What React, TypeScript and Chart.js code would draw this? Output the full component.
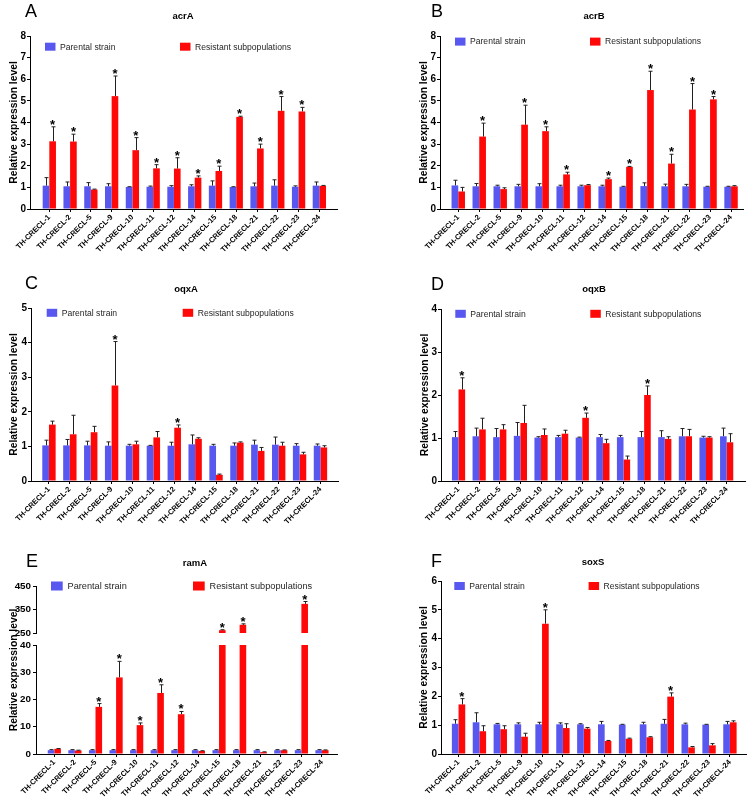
import React, { useEffect, useRef } from 'react';
import { Chart, registerables } from 'chart.js';

Chart.register(...registerables);

const FONT = '"Liberation Sans", Arial, Helvetica, sans-serif';
Chart.defaults.font.family = FONT;

// ---------- data ----------
const categories = [
  'TH-CRECL-1', 'TH-CRECL-2', 'TH-CRECL-5', 'TH-CRECL-9', 'TH-CRECL-10', 'TH-CRECL-11', 'TH-CRECL-12',
  'TH-CRECL-14', 'TH-CRECL-15', 'TH-CRECL-18', 'TH-CRECL-21', 'TH-CRECL-22', 'TH-CRECL-23', 'TH-CRECL-24',
];
const seriesLabels = ['Parental strain', 'Resistant subpopulations'];
const yAxisTitle = 'Relative expression level';

// acrA
const acrAParental = [1.08, 1.05, 1.05, 1.05, 1.02, 1.03, 1.03, 1.05, 1.08, 1.02, 1.05, 1.08, 1.03, 1.08];
const acrAParentalSD = [0.37, 0.2, 0.17, 0.12, 0.01, 0.03, 0.05, 0.07, 0.22, 0.01, 0.15, 0.27, 0.04, 0.17];
const acrAResistant = [3.13, 3.12, 0.9, 5.22, 2.72, 1.88, 1.87, 1.45, 1.76, 4.26, 2.8, 4.54, 4.51, 1.07];
const acrAResistantSD = [0.67, 0.34, 0.02, 0.93, 0.58, 0.17, 0.5, 0.08, 0.22, 0.03, 0.2, 0.66, 0.19, 0.02];
const acrASignificant = [1, 1, 0, 1, 1, 1, 1, 1, 1, 1, 1, 1, 1, 0];

// acrB
const acrBParental = [1.09, 1.05, 1.05, 1.05, 1.05, 1.05, 1.05, 1.05, 1.03, 1.06, 1.05, 1.05, 1.03, 1.03];
const acrBParentalSD = [0.24, 0.13, 0.05, 0.09, 0.12, 0.05, 0.05, 0.05, 0.02, 0.15, 0.1, 0.09, 0.02, 0.02];
const acrBResistant = [0.81, 3.35, 0.92, 3.9, 3.6, 1.6, 1.1, 1.38, 1.95, 5.5, 2.1, 4.6, 5.07, 1.05];
const acrBResistantSD = [0.19, 0.62, 0.06, 0.9, 0.2, 0.1, 0.03, 0.05, 0.02, 0.87, 0.43, 1.2, 0.13, 0.03];
const acrBSignificant = [0, 1, 0, 1, 1, 1, 0, 1, 1, 1, 1, 1, 1, 0];

// oqxA
const oqxAParental = [1.03, 1.03, 1.03, 1.02, 1.02, 1.02, 1.02, 1.06, 1.02, 1.02, 1.05, 1.05, 1.02, 1.02];
const oqxAParentalSD = [0.15, 0.17, 0.12, 0.11, 0.04, 0.01, 0.1, 0.27, 0.04, 0.08, 0.13, 0.22, 0.06, 0.05];
const oqxAResistant = [1.63, 1.35, 1.41, 2.76, 1.06, 1.26, 1.54, 1.22, 0.18, 1.11, 0.87, 1.02, 0.77, 0.97];
const oqxAResistantSD = [0.1, 0.55, 0.17, 1.27, 0.09, 0.17, 0.08, 0.03, 0.02, 0.02, 0.1, 0.1, 0.06, 0.05];
const oqxASignificant = [0, 0, 0, 1, 0, 0, 1, 0, 0, 0, 0, 0, 0, 0];

// oqxB
const oqxBParental = [1.02, 1.04, 1.02, 1.05, 1.01, 1.02, 1.01, 1.02, 1.02, 1.02, 1.02, 1.04, 1.01, 1.04];
const oqxBParentalSD = [0.13, 0.19, 0.2, 0.31, 0.02, 0.04, 0.01, 0.06, 0.04, 0.13, 0.15, 0.18, 0.03, 0.19];
const oqxBResistant = [2.13, 1.2, 1.2, 1.35, 1.07, 1.1, 1.47, 0.88, 0.5, 2.0, 0.98, 1.04, 1.01, 0.9];
const oqxBResistantSD = [0.27, 0.26, 0.11, 0.41, 0.14, 0.08, 0.11, 0.09, 0.08, 0.21, 0.05, 0.16, 0.02, 0.2];
const oqxBSignificant = [1, 0, 0, 0, 0, 0, 1, 0, 0, 1, 0, 0, 0, 0];

// ramA (broken axis: 0-40 and 250-450)
const ramAParental = [1.4, 1.4, 1.4, 1.4, 1.4, 1.4, 1.4, 1.4, 1.4, 1.4, 1.4, 1.4, 1.4, 1.4];
const ramAParentalSD = [0.2, 0.2, 0.2, 0.2, 0.2, 0.2, 0.2, 0.2, 0.2, 0.2, 0.2, 0.2, 0.2, 0.2];
const ramAResistant = [1.9, 1.3, 17.3, 28.1, 10.6, 22.4, 14.6, 1.1, 262, 285, 0.7, 1.4, 374, 1.4];
const ramAResistantSD = [0.1, 0.1, 1.2, 5.9, 0.8, 3.0, 1.0, 0.1, 2, 4, 0.1, 0.1, 10, 0.1];
const ramASignificant = [0, 0, 1, 1, 1, 1, 1, 0, 1, 1, 0, 0, 1, 0];
const ramALowTicks = [0, 10, 20, 30, 40];
const ramAHighTicks = [250, 350, 450];

// soxS
const soxSParental = [1.05, 1.1, 1.03, 1.03, 1.03, 1.03, 1.03, 1.03, 1.02, 1.03, 1.05, 1.03, 1.02, 1.03];
const soxSParentalSD = [0.14, 0.33, 0.03, 0.05, 0.07, 0.05, 0.02, 0.1, 0.01, 0.07, 0.15, 0.04, 0.01, 0.1];
const soxSResistant = [1.72, 0.79, 0.86, 0.6, 4.52, 0.9, 0.88, 0.45, 0.53, 0.58, 1.99, 0.23, 0.3, 1.1];
const soxSResistantSD = [0.2, 0.19, 0.12, 0.12, 0.48, 0.15, 0.04, 0.02, 0.02, 0.02, 0.13, 0.03, 0.06, 0.05];
const soxSSignificant = [1, 0, 0, 0, 1, 0, 0, 0, 0, 0, 1, 0, 0, 0];

// ---------- styles ----------
const BLUE = '#5858F0';
const RED = '#FF0808';

interface PanelSpec {
  letter: string;
  gene: string;
  parental: number[];
  parentalSD: number[];
  resistant: number[];
  resistantSD: number[];
  significant: number[];
  yMax: number;
  yStep: number;
  brk?: { lowTicks: number[]; highTicks: number[] };
  pos: [number, number];
  size: [number, number];
  area: { l: number; t: number; r: number; b: number };
  xRange: [number, number];
  legend: { x1: number; x2: number; dy: number; box: [number, number]; textDx: number; font: number };
  titlePos: [number, number];
  letterPos: [number, number];
  yTitleDx: number;
  yTickFont: number;
  yTickPad: number;
}

const legendStd = { box: [10.5, 8] as [number, number], textDx: 15, font: 8.6 };

const panels: PanelSpec[] = [
  {
    letter: 'A', gene: 'acrA', parental: acrAParental, parentalSD: acrAParentalSD, resistant: acrAResistant,
    resistantSD: acrAResistantSD, significant: acrASignificant, yMax: 8, yStep: 1,
    pos: [0, 0], size: [375, 270], area: { l: 30, t: 36, r: 337, b: 209 }, xRange: [-0.93, 13.85],
    legend: { x1: 15, x2: 150, dy: 10.7, ...legendStd }, titlePos: [183, 16.5], letterPos: [25, 16.5],
    yTitleDx: -16, yTickFont: 10, yTickPad: 1,
  },
  {
    letter: 'B', gene: 'acrB', parental: acrBParental, parentalSD: acrBParentalSD, resistant: acrBResistant,
    resistantSD: acrBResistantSD, significant: acrBSignificant, yMax: 8, yStep: 1,
    pos: [375, 0], size: [375, 270], area: { l: 65, t: 36, r: 368, b: 209 }, xRange: [-0.87, 13.57],
    legend: { x1: 15, x2: 150, dy: 5.6, ...legendStd }, titlePos: [219, 16.7], letterPos: [56, 16.5],
    yTitleDx: -16, yTickFont: 10, yTickPad: 1,
  },
  {
    letter: 'C', gene: 'oqxA', parental: oqxAParental, parentalSD: oqxAParentalSD, resistant: oqxAResistant,
    resistantSD: oqxAResistantSD, significant: oqxASignificant, yMax: 5, yStep: 1,
    pos: [0, 270], size: [375, 270], area: { l: 31, t: 38, r: 338, b: 211 }, xRange: [-0.86, 13.84],
    legend: { x1: 15.7, x2: 151.7, dy: 4.8, ...legendStd }, titlePos: [186, 19.3], letterPos: [25, 18.5],
    yTitleDx: -16.5, yTickFont: 10, yTickPad: 1,
  },
  {
    letter: 'D', gene: 'oqxB', parental: oqxBParental, parentalSD: oqxBParentalSD, resistant: oqxBResistant,
    resistantSD: oqxBResistantSD, significant: oqxBSignificant, yMax: 4, yStep: 1,
    pos: [375, 270], size: [375, 270], area: { l: 66, t: 39, r: 370, b: 211 }, xRange: [-0.85, 13.89],
    legend: { x1: 14.3, x2: 149.3, dy: 4.8, ...legendStd }, titlePos: [219, 19.5], letterPos: [56, 20],
    yTitleDx: -16, yTickFont: 10, yTickPad: 1,
  },
  {
    letter: 'E', gene: 'ramA', parental: ramAParental, parentalSD: ramAParentalSD, resistant: ramAResistant,
    resistantSD: ramAResistantSD, significant: ramASignificant, yMax: 40, yStep: 10,
    brk: { lowTicks: ramALowTicks, highTicks: ramAHighTicks },
    pos: [0, 540], size: [375, 263], area: { l: 36, t: 46, r: 337, b: 214 }, xRange: [-0.89, 13.73],
    legend: { x1: 15, x2: 157, dy: 0, box: [11.7, 9], textDx: 16.5, font: 9.2 }, titlePos: [195, 23.7], letterPos: [26, 26.7],
    yTitleDx: -22, yTickFont: 9.8, yTickPad: 2,
  },
  {
    letter: 'F', gene: 'soxS', parental: soxSParental, parentalSD: soxSParentalSD, resistant: soxSResistant,
    resistantSD: soxSResistantSD, significant: soxSSignificant, yMax: 6, yStep: 1,
    pos: [375, 540], size: [375, 263], area: { l: 66, t: 41, r: 371, b: 214 }, xRange: [-0.84, 13.77],
    legend: { x1: 13.3, x2: 147.6, dy: 5, ...legendStd }, titlePos: [218, 22.5], letterPos: [56, 26.7],
    yTitleDx: -16.5, yTickFont: 10, yTickPad: 1,
  },
];

// ---------- decoration plugin ----------
const decorPlugin = {
  id: 'decor',
  afterDatasetsDraw(chart: any) {
    const ctx = chart.ctx;
    ctx.save();
    chart.data.datasets.forEach((ds: any, di: number) => {
      const meta = chart.getDatasetMeta(di);
      const scale = chart.scales[ds.yAxisID || 'y'];
      meta.data.forEach((el: any, i: number) => {
        if (!el || !isFinite(el.y) || !isFinite(el.x)) return;
        const top = ds.errTops ? ds.errTops[i] : null;
        let yStar = el.y;
        const x = Math.round(el.x) + 0.5;
        if (top != null) {
          const yp = scale.getPixelForValue(top);
          ctx.strokeStyle = '#202020';
          ctx.lineWidth = 1;
          ctx.beginPath();
          ctx.moveTo(x, el.y);
          ctx.lineTo(x, yp);
          ctx.moveTo(x - 2, yp);
          ctx.lineTo(x + 2, yp);
          ctx.stroke();
          yStar = yp;
        }
        if (ds.stars && ds.stars[i]) {
          ctx.fillStyle = '#000';
          ctx.font = `bold 13px ${FONT}`;
          ctx.textAlign = 'center';
          ctx.textBaseline = 'alphabetic';
          ctx.fillText('*', el.x, yStar + 2);
        }
      });
    });
    ctx.restore();
  },
  afterDraw(chart: any, _args: any, opts: any) {
    const { ctx, chartArea } = chart;
    ctx.save();
    ctx.fillStyle = '#000';
    // panel letter
    ctx.font = `18px ${FONT}`;
    ctx.textAlign = 'left';
    ctx.textBaseline = 'alphabetic';
    ctx.fillText(opts.letter, opts.letterPos[0], opts.letterPos[1]);
    // gene title
    ctx.font = `bold 9.5px ${FONT}`;
    ctx.textAlign = 'center';
    ctx.textBaseline = 'middle';
    ctx.fillText(opts.title, opts.titlePos[0], opts.titlePos[1]);
    // legend
    const lg = opts.legend;
    const cy = chartArea.top + lg.dy;
    const items = [
      { x: lg.x1, color: chart.data.datasets[0].backgroundColor, label: chart.data.datasets[0].label },
      { x: lg.x2, color: chart.data.datasets[1].backgroundColor, label: chart.data.datasets[1].label },
    ];
    ctx.font = `${lg.font}px ${FONT}`;
    ctx.textAlign = 'left';
    ctx.textBaseline = 'middle';
    items.forEach((it) => {
      const bx = chartArea.left + it.x;
      ctx.fillStyle = it.color;
      ctx.fillRect(bx, cy - lg.box[1] / 2, lg.box[0], lg.box[1]);
      ctx.fillStyle = '#262626';
      ctx.fillText(it.label, bx + lg.textDx, cy + 0.5);
    });
    // y axis title
    ctx.fillStyle = '#000';
    ctx.font = `bold 10.3px ${FONT}`;
    ctx.translate(chartArea.left + opts.yTitleDx, (chartArea.top + chartArea.bottom) / 2);
    ctx.rotate(-Math.PI / 2);
    ctx.textAlign = 'center';
    ctx.textBaseline = 'middle';
    ctx.fillText(opts.yTitle, 0, 0);
    ctx.restore();
  },
};

function buildConfig(spec: PanelSpec): any {
  const [w, h] = spec.size;
  const n = categories.length;
  const idx = Array.from({ length: n }, (_, i) => i);

  const yScale = (min: number, max: number, step: number, extra: any = {}) => ({
    type: 'linear',
    position: 'left',
    min,
    max,
    stacked: false,
    afterFit: (axis: any) => {
      axis.width = spec.area.l;
    },
    grid: { display: true, drawOnChartArea: false, drawTicks: true, tickLength: 3, color: '#000', lineWidth: 1 },
    border: { display: true, color: '#000', width: 1 },
    ticks: {
      stepSize: step,
      padding: spec.yTickPad,
      color: '#000',
      font: { family: FONT, size: spec.yTickFont, weight: 'bold' },
    },
    ...extra,
  });

  const xScale = {
    type: 'linear',
    min: spec.xRange[0],
    max: spec.xRange[1],
    offset: false,
    afterBuildTicks: (axis: any) => {
      axis.ticks = idx.map((i) => ({ value: i }));
    },
    afterFit: (axis: any) => {
      axis.height = h - spec.area.b;
    },
    grid: { display: true, drawOnChartArea: false, drawTicks: true, tickLength: 3, color: '#000', offset: false },
    border: { display: true, color: '#000', width: 1 },
    ticks: {
      autoSkip: false,
      maxRotation: 45,
      minRotation: 45,
      padding: 1,
      color: '#000',
      font: { family: FONT, size: 7.5, weight: 'bold' },
      callback: (v: number) => categories[v] ?? '',
    },
  };

  const common = { categoryPercentage: 0.64, barPercentage: 1, borderWidth: 0 };
  let datasets: any[];
  let scales: any;

  if (spec.brk) {
    const lowMax = spec.brk.lowTicks[spec.brk.lowTicks.length - 1];
    const lowStep = spec.brk.lowTicks[1] - spec.brk.lowTicks[0];
    const highMin = spec.brk.highTicks[0];
    const highMax = spec.brk.highTicks[spec.brk.highTicks.length - 1];
    const highStep = spec.brk.highTicks[1] - spec.brk.highTicks[0];
    datasets = [
      {
        ...common, label: seriesLabels[0], backgroundColor: BLUE, yAxisID: 'y', stack: 'p',
        data: spec.parental.map((v, i) => ({ x: i, y: v })),
        errTops: spec.parental.map((v, i) => v + spec.parentalSD[i]),
        stars: [],
      },
      {
        ...common, label: seriesLabels[1], backgroundColor: RED, yAxisID: 'y', stack: 'r',
        data: spec.resistant.map((v, i) => ({ x: i, y: Math.min(v, lowMax) })),
        errTops: spec.resistant.map((v, i) => (v <= lowMax ? v + spec.resistantSD[i] : null)),
        stars: spec.significant.map((s, i) => !!s && spec.resistant[i] <= lowMax),
      },
      {
        ...common, label: seriesLabels[1], backgroundColor: RED, yAxisID: 'yHigh', stack: 'r',
        data: spec.resistant.map((v, i) => ({ x: i, y: v >= highMin ? [highMin, v] : null })),
        errTops: spec.resistant.map((v, i) => (v >= highMin ? v + spec.resistantSD[i] : null)),
        stars: spec.significant.map((s, i) => !!s && spec.resistant[i] >= highMin),
      },
    ];
    scales = {
      x: xScale,
      y: yScale(0, lowMax, lowStep, { stack: 'brk', stackWeight: 109 }),
      yGap: {
        type: 'linear', position: 'left', min: 0, max: 1, stack: 'brk', stackWeight: 12,
        afterFit: (axis: any) => { axis.width = spec.area.l; },
        grid: { display: false }, border: { display: false }, ticks: { display: false },
      },
      yHigh: yScale(highMin, highMax, highStep, { stack: 'brk', stackWeight: 47 }),
    };
  } else {
    datasets = [
      {
        ...common, label: seriesLabels[0], backgroundColor: BLUE, yAxisID: 'y',
        data: spec.parental.map((v, i) => ({ x: i, y: v })),
        errTops: spec.parental.map((v, i) => v + spec.parentalSD[i]),
        stars: [],
      },
      {
        ...common, label: seriesLabels[1], backgroundColor: RED, yAxisID: 'y',
        data: spec.resistant.map((v, i) => ({ x: i, y: v })),
        errTops: spec.resistant.map((v, i) => v + spec.resistantSD[i]),
        stars: spec.significant.map((s) => !!s),
      },
    ];
    scales = { x: xScale, y: yScale(0, spec.yMax, spec.yStep) };
  }

  return {
    type: 'bar',
    data: { datasets },
    plugins: [decorPlugin],
    options: {
      animation: false,
      responsive: false,
      maintainAspectRatio: false,
      devicePixelRatio: 1,
      layout: { padding: { left: 0, top: spec.area.t, right: w - spec.area.r, bottom: 0 } },
      scales,
      plugins: {
        legend: { display: false },
        title: { display: false },
        tooltip: { enabled: false },
        decor: {
          letter: spec.letter,
          letterPos: spec.letterPos,
          title: spec.gene,
          titlePos: spec.titlePos,
          legend: spec.legend,
          yTitle: yAxisTitle,
          yTitleDx: spec.yTitleDx,
        },
      },
    },
  };
}

function PanelChart({ spec }: { spec: PanelSpec }) {
  const ref = useRef<HTMLCanvasElement | null>(null);
  useEffect(() => {
    if (!ref.current) return;
    const chart = new Chart(ref.current, buildConfig(spec));
    return () => chart.destroy();
  }, [spec]);
  return (
    <canvas
      ref={ref}
      width={spec.size[0]}
      height={spec.size[1]}
      style={{
        position: 'absolute',
        left: spec.pos[0],
        top: spec.pos[1],
        width: spec.size[0],
        height: spec.size[1],
        display: 'block',
      }}
    />
  );
}

export default function App() {
  return (
    <div style={{ position: 'absolute', left: 0, top: 0, width: 750, height: 803, background: '#fff', overflow: 'hidden' }}>
      {panels.map((p) => (
        <PanelChart key={p.letter} spec={p} />
      ))}
    </div>
  );
}
